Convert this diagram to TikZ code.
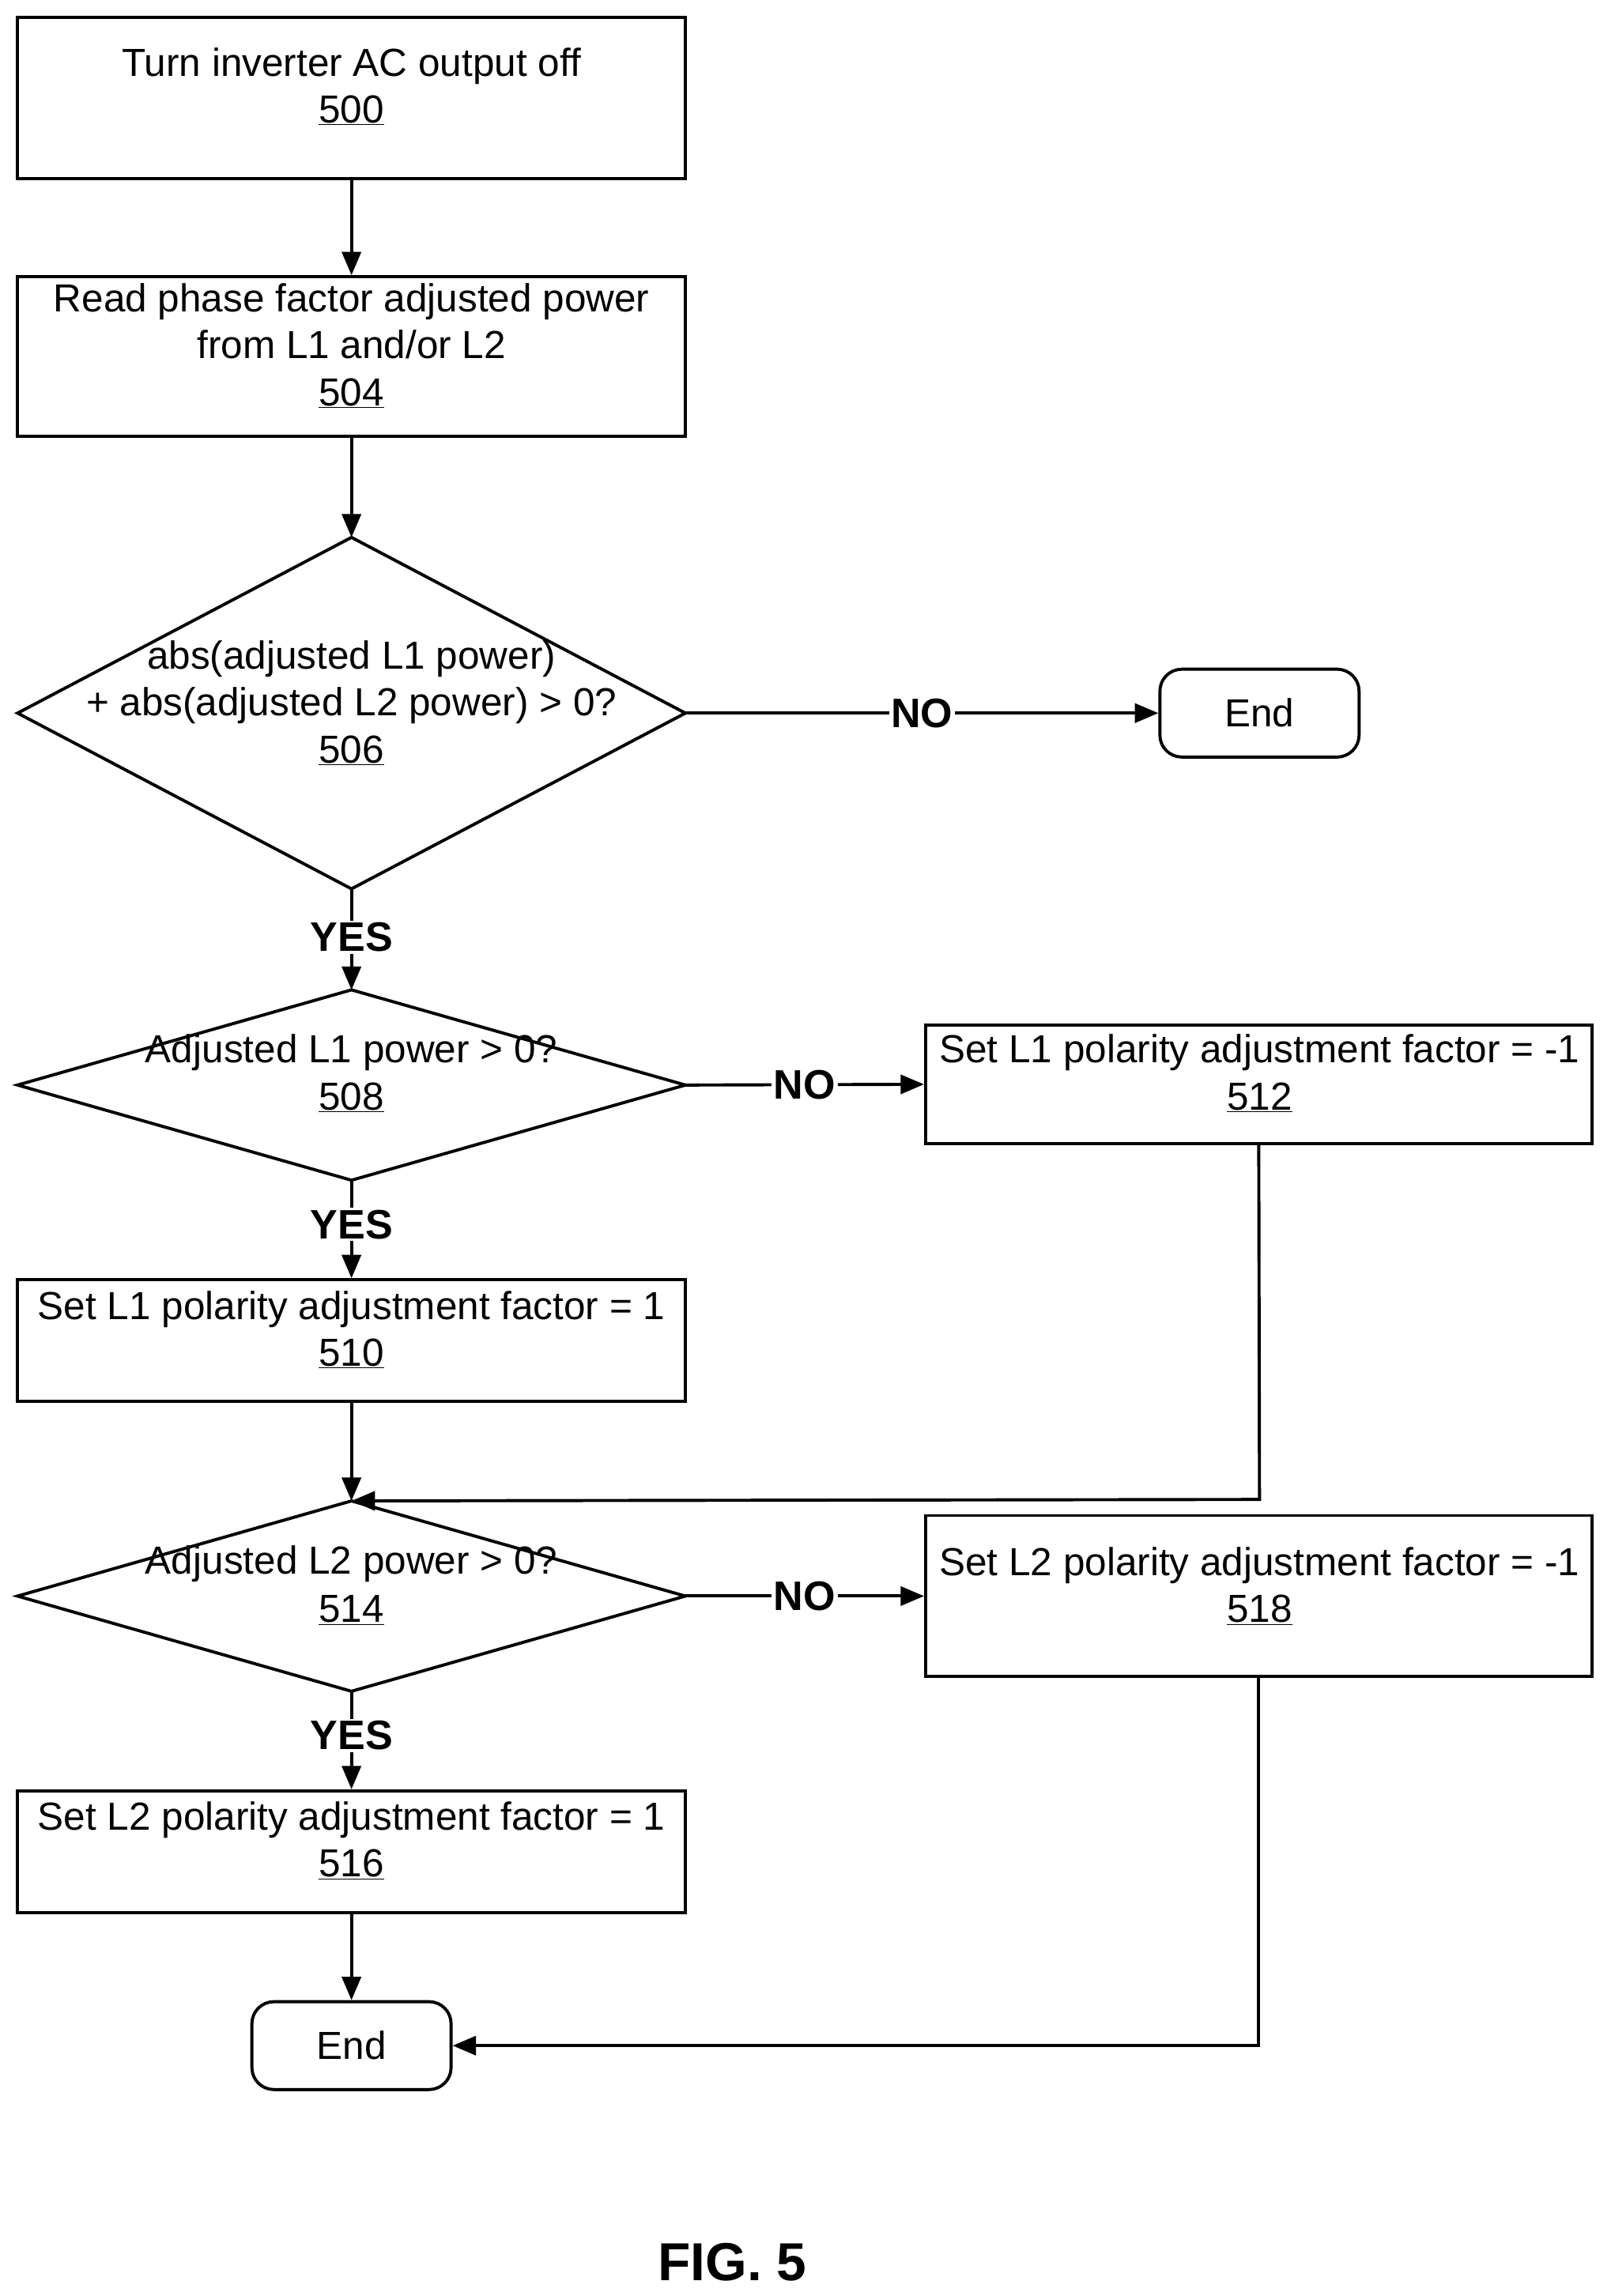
\documentclass[tikz,border=0pt]{standalone}
\usepackage{fontspec}
\setmainfont{Liberation Sans}
\usetikzlibrary{arrows.meta}
\begin{document}
\begin{tikzpicture}[x=0.05cm,y=-0.05cm,
  every node/.style={font=\fontsize{38}{38}\selectfont},
  box/.style={draw,line width=3pt,rectangle,inner sep=0pt},
  arr/.style={line width=3pt,-{Triangle[length=0.8cm,width=0.65cm]}},
  ln/.style={line width=3pt},
  lab/.style={fill=white,font=\fontsize{40}{40}\selectfont\bfseries,inner sep=2pt},
  txt/.style={align=center,inner sep=0pt,text height=0.72em,text depth=0.18em}]
\useasboundingbox (0,0) rectangle (1100,1568);
% boxes
\node[box,minimum width=456*0.05cm,minimum height=110*0.05cm] (b500) at (240,67) {};
\node[txt] at (240,50) {Turn inverter AC output off};
\node[txt] at (240,82) {\underline{500}};
\node[box,minimum width=456*0.05cm,minimum height=109*0.05cm] (b504) at (240,243.5) {};
\node[txt] at (240,211) {Read phase factor adjusted power};
\node[txt] at (240,243) {from L1 and/or L2};
\node[txt] at (240,275) {\underline{504}};
% diamond 506
\coordinate (d506t) at (240,367); \coordinate (d506b) at (240,607);
\coordinate (d506l) at (12,487); \coordinate (d506r) at (468,487);
\draw[ln] (d506t)--(d506r)--(d506b)--(d506l)--cycle;
\node[txt] at (240,455) {abs(adjusted L1 power)};
\node[txt] at (240,487) {+ abs(adjusted L2 power) > 0?};
\node[txt] at (240,519) {\underline{506}};
\node[box,rounded corners=0.75cm,minimum width=136*0.05cm,minimum height=60*0.05cm] (end1) at (860,487) {End};
% diamond 508
\coordinate (d508t) at (240,676); \coordinate (d508b) at (240,806);
\coordinate (d508l) at (12,741); \coordinate (d508r) at (468,741);
\draw[ln] (d508t)--(d508r)--(d508b)--(d508l)--cycle;
\node[txt] at (240,724) {Adjusted L1 power > 0?};
\node[txt] at (240,756) {\underline{508}};
\node[box,minimum width=455*0.05cm,minimum height=81*0.05cm] (b512) at (859.5,740.5) {};
\node[txt] at (860,724) {Set L1 polarity adjustment factor = -1};
\node[txt] at (860,756) {\underline{512}};
\node[box,minimum width=456*0.05cm,minimum height=83*0.05cm] (b510) at (240,915.5) {};
\node[txt] at (240,899) {Set L1 polarity adjustment factor = 1};
\node[txt] at (240,931) {\underline{510}};
% diamond 514
\coordinate (d514t) at (240,1025); \coordinate (d514b) at (240,1155);
\coordinate (d514l) at (12,1090); \coordinate (d514r) at (468,1090);
\draw[ln] (d514t)--(d514r)--(d514b)--(d514l)--cycle;
\node[txt] at (240,1073) {Adjusted L2 power > 0?};
\node[txt] at (240,1106) {\underline{514}};
\node[box,minimum width=455*0.05cm,minimum height=110*0.05cm] (b518) at (859.5,1090) {};
\node[txt] at (860,1074) {Set L2 polarity adjustment factor = -1};
\node[txt] at (860,1106) {\underline{518}};
\node[box,minimum width=456*0.05cm,minimum height=83*0.05cm] (b516) at (240,1264.5) {};
\node[txt] at (240,1248) {Set L2 polarity adjustment factor = 1};
\node[txt] at (240,1280) {\underline{516}};
\node[box,rounded corners=0.75cm,minimum width=136*0.05cm,minimum height=60*0.05cm] (end2) at (240,1397) {End};
% connectors
\draw[arr] (b500.south)--(b504.north);
\draw[arr] (b504.south)--(d506t);
\draw[arr] (d506r)--(end1.west) node[lab,pos=0.5] {NO};
\draw[arr] (d506b)--(d508t) node[lab,pos=0.48] {YES};
\draw[arr] (d508r)--(b512.west) node[lab,pos=0.5] {NO};
\draw[arr] (d508b)--(b510.north) node[lab,pos=0.45] {YES};
\draw[arr] (b510.south)--(d514t);
\coordinate (m1) at (860,1024);
\draw[arr] (b512.south)--(m1)--(d514t);
\draw[arr] (d514r)--(b518.west) node[lab,pos=0.5] {NO};
\draw[arr] (d514b)--(b516.north) node[lab,pos=0.45] {YES};
\draw[arr] (b516.south)--(end2.north);
\draw[arr] (b518.south)--(b518.south|-end2.east)--(end2.east);
\node[font=\fontsize{52}{52}\selectfont\bfseries] (fig) at (500,1545) {FIG. 5};
\end{tikzpicture}
\end{document}
